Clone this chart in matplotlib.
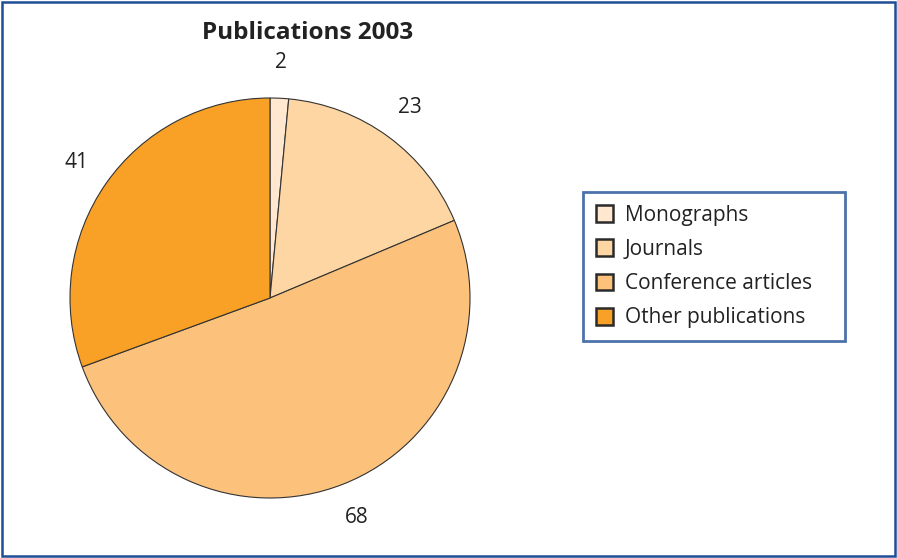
import matplotlib.pyplot as plt
from matplotlib.patches import Rectangle, Patch

plt.rcParams['font.family'] = ['Open Sans', 'DejaVu Sans']

categories = ['Monographs', 'Journals', 'Conference articles', 'Other publications']
counts = [2, 23, 68, 41]
colors = ['#FFE8CF', '#FDD6A3', '#FCC27B', '#F8A126']
title = 'Publications 2003'

fig = plt.figure(figsize=(8.97, 5.58), dpi=100)
W, H = 897, 558

# blue frame around the whole chart
fig.patches.append(Rectangle((2 / W, 2 / H), 893 / W, 554 / H, transform=fig.transFigure,
                             fill=False, edgecolor='#1F4E96', linewidth=1.8))

# pie axes: centre at (270, 298) px, radius 200 px
ax = fig.add_axes([70 / W, 60 / H, 400 / W, 400 / H])
wedges, texts = ax.pie(counts, labels=[str(c) for c in counts], colors=colors,
                       startangle=90, counterclock=False, labeldistance=1.18,
                       wedgeprops=dict(edgecolor='#333333', linewidth=0.8),
                       textprops=dict(fontsize=15, color='#222222'))
for t in texts:
    t.set_ha('center')
    t.set_va('center')
ax.set_xlim(-1, 1)
ax.set_ylim(-1, 1)
ax.set_aspect('equal')

fig.text(308 / W, 1 - 33 / H, title, ha='center', va='center',
         fontsize=17.5, fontweight='bold', color='#222222')

# legend box spans x 583..845, y 192..341 px
handles = [Patch(facecolor=c, edgecolor='#2a2a2a', linewidth=1.8) for c in colors]
leg = fig.legend(handles, categories, loc='center left', mode='expand',
                 bbox_to_anchor=(583 / W, (H - 341) / H, 262 / W, 149 / H), fontsize=15,
                 frameon=True, fancybox=False, handlelength=0.85, handleheight=0.85,
                 handletextpad=0.55, labelspacing=0.64, borderpad=0.6,
                 borderaxespad=0, labelcolor='#222222')
leg.get_frame().set_edgecolor('#1F4E96')
leg.get_frame().set_linewidth(2)

fig.savefig('out.png', dpi=100)
